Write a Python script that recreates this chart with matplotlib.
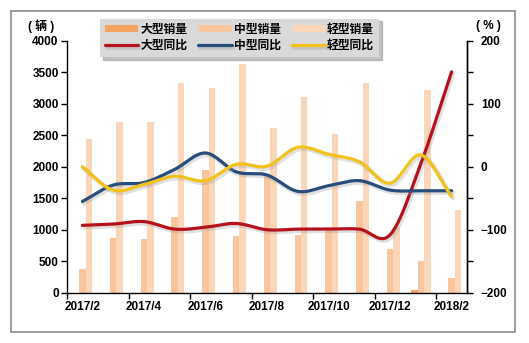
#!/usr/bin/env python3
"""
Monthly bus sales (large / medium / light) with year-on-year growth lines.
"""

import matplotlib
matplotlib.use("Agg")
import matplotlib.pyplot as plt
import matplotlib.patheffects as pe
from matplotlib.patches import Rectangle
from matplotlib.ticker import MultipleLocator, FixedLocator
import numpy as np

plt.rcParams["font.family"] = ["Liberation Sans", "Noto Sans CJK SC", "DejaVu Sans"]

# -------------------------------------------------------------
# Data
# -------------------------------------------------------------
months = ["2017/2", "2017/3", "2017/4", "2017/5", "2017/6", "2017/7", "2017/8",
          "2017/9", "2017/10", "2017/11", "2017/12", "2018/1", "2018/2"]

large_sales = [0, 0, 0, 0, 0, 0, 0, 0, 0, 0, 0, 40, 0]
medium_sales = [370, 865, 850, 1200, 1950, 900, 1850, 920, 1000, 1455, 700, 500, 230]
light_sales = [2450, 2705, 2705, 3330, 3260, 3640, 2620, 3105, 2520, 3330, 1050, 3220, 1320]

large_yoy = [-93, -91, -87, -99, -96, -90, -100, -99, -99, -99, -108, 5, 151]
medium_yoy = [-55, -29, -25, -4, 22, -8, -13, -39, -30, -22, -37, -38, -38]
light_yoy = [0, -37, -28, -15, -22, 4, 1, 31, 20, 8, -26, 19, -47]

c_large, c_medium, c_light = "#f5a460", "#f9c59c", "#fcd6b8"
c_large_line, c_medium_line, c_light_line = "#b5121b", "#284d7c", "#f2c21b"


def smooth(y, n=24):
    # Catmull-Rom curve through every monthly point
    y = np.asarray(y, dtype=float)
    p = np.concatenate([[2 * y[0] - y[1]], y, [2 * y[-1] - y[-2]]])
    xs, ys = [], []
    t = np.linspace(0, 1, n, endpoint=False)
    for i in range(len(y) - 1):
        p0, p1, p2, p3 = p[i], p[i + 1], p[i + 2], p[i + 3]
        m1, m2 = (p2 - p0) / 2, (p3 - p1) / 2
        h00 = 2 * t**3 - 3 * t**2 + 1
        h10 = t**3 - 2 * t**2 + t
        h01 = -2 * t**3 + 3 * t**2
        h11 = t**3 - t**2
        xs.append(i + t)
        ys.append(h00 * p1 + h10 * m1 + h01 * p2 + h11 * m2)
    xs.append([len(y) - 1])
    ys.append([y[-1]])
    return np.concatenate(xs), np.concatenate(ys)


# -------------------------------------------------------------
# Figure
# -------------------------------------------------------------
fig = plt.figure(figsize=(5.29, 3.43), dpi=100)
fig.patches.append(Rectangle((0.021, 0.032), 0.953, 0.936, transform=fig.transFigure,
                             fill=False, edgecolor="#8c8c8c", linewidth=1.2))

ax = fig.add_axes([0.1267, 0.1467, 0.7561, 0.7338])
ax2 = ax.twinx()

x = np.arange(len(months))
w = 0.21
ax.bar(x - w, large_sales, w, color=c_large, label="大型销量", zorder=2)
ax.bar(x, medium_sales, w, color=c_medium, label="中型销量", zorder=2)
ax.bar(x + w, light_sales, w, color=c_light, label="轻型销量", zorder=2)

shadow = [pe.SimpleLineShadow(offset=(1.0, -1.3), shadow_color="#999999", alpha=0.3, linewidth=3.4),
          pe.Normal()]
lines = []
for vals, col, lab in [(large_yoy, c_large_line, "大型同比"),
                       (medium_yoy, c_medium_line, "中型同比"),
                       (light_yoy, c_light_line, "轻型同比")]:
    sx, sy = smooth(vals)
    ln, = ax2.plot(sx, sy, color=col, linewidth=2.3, label=lab,
                   solid_capstyle="round", path_effects=shadow)
    lines.append(ln)

# left axis
ax.set_xlim(-0.5, len(months) - 0.5)
ax.set_ylim(0, 4000)
ax.yaxis.set_major_locator(MultipleLocator(500))
ax.tick_params(axis="y", direction="out", length=4, width=1, labelsize=8.5, pad=2)

ax.set_xticks(x[::2])
ax.set_xticklabels(months[::2])
ax.xaxis.set_minor_locator(FixedLocator(np.arange(-0.5, len(months), 2)))
ax.tick_params(axis="x", which="major", length=0, labelsize=8.5, pad=6)
ax.tick_params(axis="x", which="minor", direction="out", length=4, width=1)

# right axis
ax2.set_ylim(-200, 200)
ax2.yaxis.set_major_locator(MultipleLocator(100))
ax2.yaxis.set_minor_locator(MultipleLocator(50))
ax2.tick_params(axis="y", which="both", direction="out", length=4, width=1, labelsize=8.5, pad=6)

for a in (ax, ax2):
    a.spines["top"].set_visible(False)
    for s in ("left", "right", "bottom"):
        a.spines[s].set_linewidth(1)
    for lab in a.get_xticklabels() + a.get_yticklabels():
        lab.set_fontweight("bold")
ax2.spines["left"].set_visible(False)
ax2.spines["bottom"].set_visible(False)

fig.text(0.078, 0.925, "( 辆 )", ha="center", va="center", fontsize=8.5, fontweight="bold")
fig.text(0.924, 0.925, "( % )", ha="center", va="center", fontsize=8.5, fontweight="bold")

# legend
h1, l1 = ax.get_legend_handles_labels()
handles = [h1[0], lines[0], h1[1], lines[1], h1[2], lines[2]]
labels = ["大型销量", "大型同比", "中型销量", "中型同比", "轻型销量", "轻型同比"]
leg = ax2.legend(handles, labels, ncol=3, loc="upper left",
                 bbox_to_anchor=(0.068, 1.112), frameon=True, fancybox=False,
                 shadow={"color": "#9a9a9a", "alpha": 0.6},
                 facecolor="#d9d9d9", edgecolor="none", framealpha=1,
                 prop={"size": 8.5, "weight": "bold"},
                 handlelength=2.8, handleheight=0.5, handletextpad=0.2,
                 columnspacing=0.9, labelspacing=0.3, borderpad=0.45)
leg.set_zorder(10)

fig.savefig("out.png", dpi=100)
